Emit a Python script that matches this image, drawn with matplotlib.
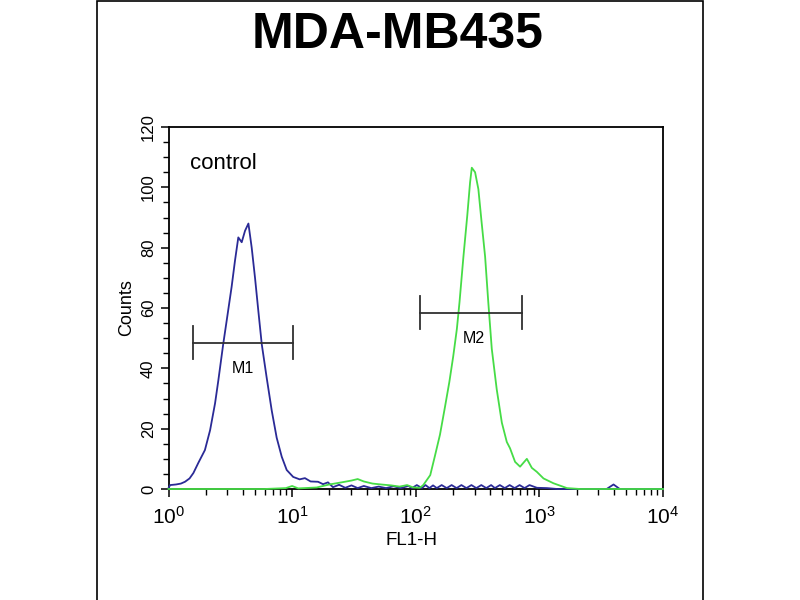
import matplotlib
matplotlib.use('Agg')
import matplotlib.pyplot as plt
import matplotlib.patches as patches
from matplotlib.ticker import MultipleLocator, LogLocator, NullFormatter
import numpy as np

plt.rcParams['font.family'] = ['Liberation Sans', 'DejaVu Sans']
plt.rcParams['mathtext.fontset'] = 'custom'
plt.rcParams['mathtext.rm'] = 'Liberation Sans'
plt.rcParams['mathtext.it'] = 'Liberation Sans'

# control histogram (blue), FL1-H channel value -> counts
blue_fl1 = [1.0, 1.03, 1.15, 1.26, 1.36, 1.48, 1.59, 1.74, 1.97, 2.17, 2.38, 2.53,
            2.77, 2.96, 3.24, 3.45, 3.67, 3.91, 4.16, 4.43, 4.71, 5.01, 5.33, 5.68,
            6.22, 6.84, 7.50, 8.24, 9.04, 10.2, 11.5, 12.7, 14.1, 16.2, 17.8, 19.5,
            21.4, 24.0, 26.9, 30.2, 33.9, 38.0, 43.7, 50.1, 57.5, 66.1, 75.9, 87.1,
            93.3, 102, 112, 120, 129, 138, 148, 162, 178, 195, 214, 234, 257, 282,
            309, 339, 372, 407, 437, 479, 525, 575, 631, 692, 759, 832, 955, 1150,
            1400, 1800, 2500, 3500, 3980, 4470, 6000, 10000]
blue_cnt = [0.3, 1.3, 1.5, 1.8, 2.4, 3.5, 5.3, 8.6, 12.9, 19.5, 28.4, 36,
            48, 56, 67, 75.7, 83.4, 81.8, 85.6, 88, 80, 70, 59, 48,
            37, 26, 17, 10.7, 6.3, 4, 3.2, 3.6, 2.5, 2.4, 1.6, 2.2,
            0.6, 1.4, 0.4, 1.2, 0.3, 1.0, 0.3, 0.8, 0.3, 0.9, 0.3, 1.0,
            0.3, 1.3, 0.3, 1.3, 0.3, 1.2, 0.3, 1.3, 0.3, 1.3, 0.3, 1.3, 0.3, 1.3,
            0.3, 1.3, 0.3, 1.3, 0.3, 1.3, 0.3, 1.3, 0.3, 1.3, 0.3, 1.3, 0.4, 0.3,
            0.0, 0.0, 0.0, 0.0, 1.5, 0.0, 0.0, 0.0]

# stained histogram (green)
green_fl1 = [1.0, 3.0, 6.0, 8.9, 10.0, 11.2, 15.8, 20.0, 25.1, 30.2, 33.9, 38.0,
             44.7, 52.5, 63.1, 74.1, 85.1, 95.5, 108, 115, 131, 143, 157, 172,
             187, 201, 215, 226, 243, 261, 275, 284, 302, 321, 341, 364, 386,
             412, 452, 497, 545, 579, 636, 698, 792, 869, 953, 1080, 1300,
             1670, 2130, 10000]
green_cnt = [0, 0, 0, 0.3, 1.0, 0.2, 0.5, 1.5, 2.2, 2.8, 3.3, 2.5,
             1.8, 1.5, 1.2, 0.8, 1.3, 0.5, 0.4, 1.3, 4.6, 11, 18, 27,
             35.5, 44, 53, 62, 77, 90.6, 101.6, 106.5, 105, 99.4, 88.4, 77, 62,
             46.5, 33, 22, 15.6, 13.5, 9, 7.4, 10, 7, 5.7, 3.5, 1.9,
             0.3, 0, 0]

# marker gates: (low, high, counts level, label, label position)
gates = [(1.58, 10.1, 48.5, 'M1', 4.0, 40),
         (108, 721, 58.5, 'M2', 297, 50)]

fig = plt.figure(figsize=(8, 6), dpi=100)
ax = fig.add_axes([168.5/800, 111/600, 494.5/800, 362/600])

ax.plot(blue_fl1, blue_cnt, color='#2a2a96', lw=1.3, clip_on=False, zorder=3)
ax.plot(green_fl1, green_cnt, color='#46dc46', lw=1.3, clip_on=False, zorder=4)

for lo, hi, lev, lab, lx, ly in gates:
    ax.plot([lo, hi], [lev, lev], color='#303030', lw=1.3, zorder=5)
    ax.plot([lo, lo], [lev - 5.5, lev + 5.5], color='#303030', lw=1.3, zorder=5)
    ax.plot([hi, hi], [lev - 5.5, lev + 5.5], color='#303030', lw=1.3, zorder=5)
    ax.text(lx, ly, lab, fontsize=11.5, ha='center', va='center', zorder=6)

ax.set_xscale('log')
ax.set_xlim(1, 10000)
ax.set_ylim(0, 120)
ax.set_xticks([1, 10, 100, 1000, 10000])
ax.set_xticklabels(['$10^0$', '$10^1$', '$10^2$', '$10^3$', '$10^4$'], fontsize=15)
ax.xaxis.set_minor_locator(LogLocator(base=10, subs=np.arange(2, 10)))
ax.xaxis.set_minor_formatter(NullFormatter())
ax.set_yticks([0, 20, 40, 60, 80, 100, 120])
ax.set_yticklabels(['0', '20', '40', '60', '80', '100', '120'], fontsize=12,
                   rotation=90, va='center')
ax.yaxis.set_minor_locator(MultipleLocator(5))
ax.tick_params(direction='out', length=6, width=1.1)
ax.tick_params(which='minor', direction='out', length=4, width=1.0)
ax.tick_params(axis='x', pad=6)
ax.tick_params(axis='y', pad=3)
for s in ax.spines.values():
    s.set_linewidth(1.3)

ax.set_xlabel('FL1-H', fontsize=13.5)
ax.xaxis.set_label_coords(0.492, -0.12)
ax.set_ylabel('Counts', fontsize=13, labelpad=4)
ax.text(0.043, 0.90, 'control', transform=ax.transAxes, fontsize=16,
        ha='left', va='center')

fig.text(0.4975, 1 - 48/600, 'MDA-MB435', fontsize=36, fontweight='bold',
         ha='center', va='baseline')

# panel frame
fig.add_artist(patches.Rectangle((97/800, -0.05), 606/800, 1.05 - 1.5/600,
                                 transform=fig.transFigure, fill=False,
                                 edgecolor='black', lw=1.2))

fig.savefig('out.png', dpi=100)
